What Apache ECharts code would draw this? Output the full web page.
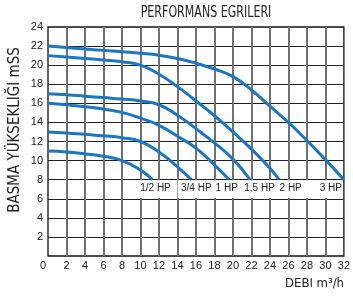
<!DOCTYPE html>
<html><head><meta charset="utf-8">
<script src="https://cdn.jsdelivr.net/npm/echarts@6/dist/echarts.min.js"></script>
<style>html,body{margin:0;padding:0;background:#fff}#c{width:353px;height:296px}</style>
</head><body><div id="c"></div>
<script>
// ---- data ----
const titleText = 'PERFORMANS EGRILERI';
const yName = 'BASMA YÜKSEKLIĞI mSS';
const xName = 'DEBI m³/h';
const xTickLabels = [0,2,4,6,8,10,12,14,16,18,20,22,24,26,28,30,32];
const yTickLabels = [0,2,4,6,8,10,12,14,16,18,20,22,24];
const curveNames = ['1/2 HP','3/4 HP','1 HP','1,5 HP','2 HP','3 HP'];

const flowHalf = [0,2,4,6,8,10,11.3];
const headHalf = [11,10.9,10.7,10.45,10.0,9.0,8];

const flowThreeQ = [0,2,4,6,8,10,12,14,15.5];
const headThreeQ = [13,12.9,12.75,12.6,12.4,12.0,10.9,9.35,8];

const flowOne = [0,2,4,6,8,10,12,14,16,18,19.6];
const headOne = [16,15.85,15.65,15.4,15.05,14.45,13.7,12.55,11.3,9.55,8];

const flowOneHalf = [0,2,4,6,8,10,12,14,16,18,20,21.85];
const headOneHalf = [17,16.9,16.75,16.6,16.45,16.25,15.85,14.75,13.35,11.85,10.15,8];

const flowTwo = [0,2,4,6,8,10,12,14,16,18,20,22,24,25];
const headTwo = [21,20.85,20.7,20.55,20.35,20.0,19.05,17.75,16.25,14.7,13.0,11.2,9.2,8];

const flowThree = [0,2,4,6,8,10,12,14,16,18,20,22,24,26,28,30,32];
const headThree = [22,21.85,21.7,21.55,21.4,21.25,21.05,20.7,20.2,19.6,18.8,17.4,15.7,14,12.1,10.1,8];

// ---- styling ----
const flows = [flowHalf, flowThreeQ, flowOne, flowOneHalf, flowTwo, flowThree];
const heads = [headHalf, headThreeQ, headOne, headOneHalf, headTwo, headThree];
const labelDx = [3, 5, -2.5, 9.5, 11.5, -13];
const blue = '#1c77c2';
const narrow = '"Liberation Sans Narrow","DejaVu Sans Condensed","Liberation Sans",sans-serif';
const plain = '"Liberation Sans",Arial,sans-serif';

const series = curveNames.map((name, i) => {
  const f = flows[i], h = heads[i];
  return {
    name, type: 'line', smooth: 0.5, showSymbol: false, silent: true,
    data: f.map((x, k) => [x, h[k]]),
    lineStyle: {color: blue, width: 3},
    markPoint: {
      silent: true, symbol: 'circle', symbolSize: 0,
      data: [{coord: [f[f.length-1], h[h.length-1]]}],
      label: {show: true, formatter: name, color: '#222', fontSize: 10, fontFamily: plain,
              offset: [labelDx[i], 8.5]}
    },
    z: 3
  };
});

// white band behind the HP labels (row 6..8)
series.push({
  type: 'line', data: [], silent: true,
  markArea: {silent: true, itemStyle: {color: '#fff', opacity: 1},
    data: [[{coord: [8.15, 6.07]}, {coord: [31.85, 7.93]}]]},
  markLine: {silent: true, symbol: 'none', label: {show: false},
    lineStyle: {color: '#a8a8a8', width: 1, type: 'solid'},
    data: [[{coord: [14, 6]}, {coord: [14, 8]}]]},
  z: 2
});

const chart = echarts.init(document.getElementById('c'), null, {renderer: 'canvas'});
chart.setOption({
  animation: false,
  backgroundColor: '#fff',
  grid: {left: 48, right: 7, top: 27, bottom: 40, show: true, borderColor: '#111', borderWidth: 1.3, backgroundColor: 'transparent'},
  xAxis: {
    type: 'value', min: xTickLabels[0], max: xTickLabels[xTickLabels.length-1], interval: 2,
    axisLine: {show: false}, axisTick: {show: false},
    splitLine: {show: true, showMinLine: false, showMaxLine: false, lineStyle: {color: '#707070', width: 2}},
    axisLabel: {margin: 4, color: '#222', fontSize: 11, fontFamily: plain,
      formatter: v => v === 0 ? '{z|0}' : String(v),
      rich: {z: {padding: [0, 10, 0, 0], fontSize: 11, color: '#222', fontFamily: plain}}}
  },
  yAxis: {
    type: 'value', min: yTickLabels[0], max: yTickLabels[yTickLabels.length-1], interval: 2,
    axisLine: {show: false}, axisTick: {show: false},
    splitLine: {show: true, showMinLine: false, showMaxLine: false, lineStyle: {color: '#1e1e1e', width: 1.2}},
    axisLabel: {margin: 5, color: '#222', fontSize: 11, fontFamily: plain,
      formatter: v => v === 0 ? '' : String(v)}
  },
  graphic: [
    {type: 'text', x: 206, y: 13, scaleX: 0.82, silent: true,
     style: {text: titleText, font: '15px ' + narrow, fill: '#222', align: 'center', verticalAlign: 'middle', textAlign: 'center', textVerticalAlign: 'middle'}},
    {type: 'text', x: 15, y: 130, rotation: Math.PI / 2, silent: true,
     style: {text: yName, font: '15px ' + narrow, fill: '#222', align: 'center', verticalAlign: 'middle', textAlign: 'center', textVerticalAlign: 'middle'}},
    {type: 'text', x: 344, y: 284, silent: true,
     style: {text: xName, font: '13px ' + narrow, fill: '#222', align: 'right', verticalAlign: 'middle', textAlign: 'right', textVerticalAlign: 'middle'}}
  ],
  series
});
</script>
</body></html>
